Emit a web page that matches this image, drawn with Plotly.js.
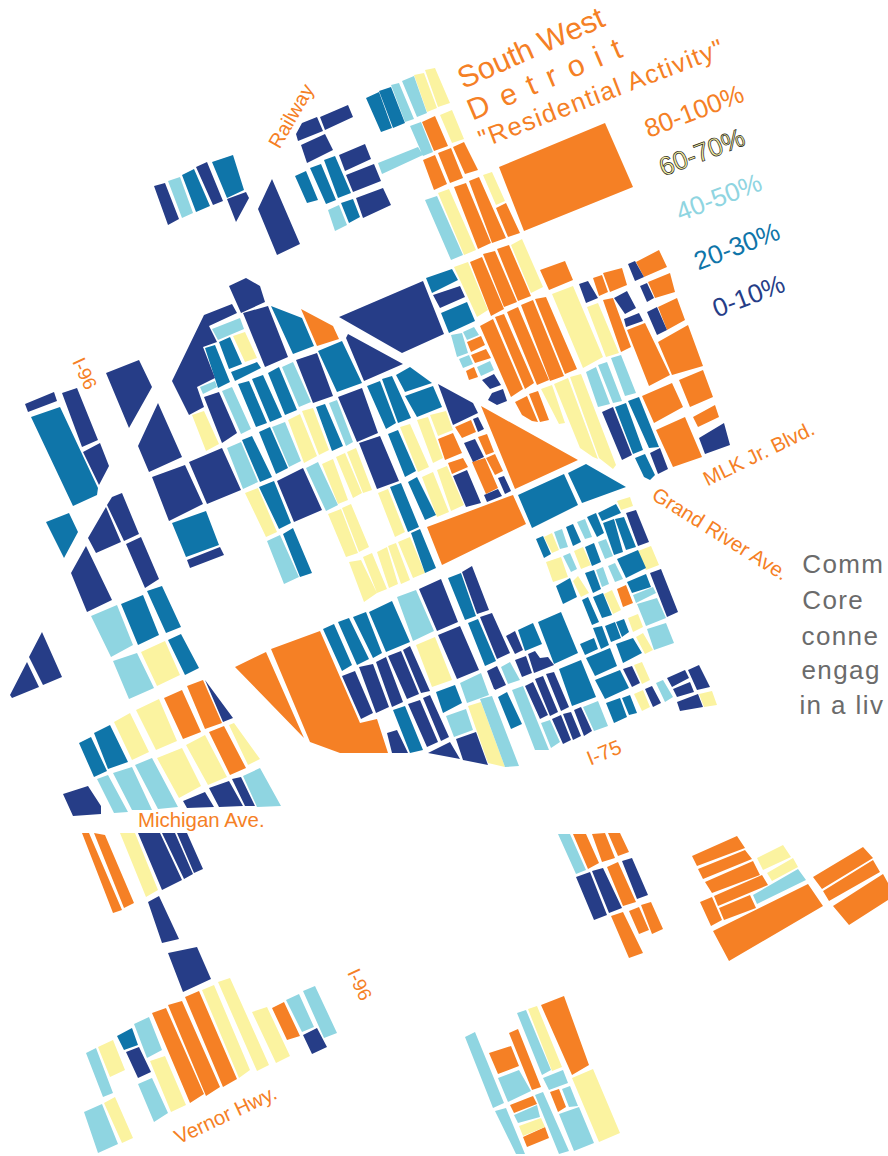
<!DOCTYPE html>
<html><head><meta charset="utf-8">
<script src="https://cdn.plot.ly/plotly-3.0.1.min.js"></script>
<style>html,body{margin:0;padding:0;background:#fff;overflow:hidden}#map{width:888px;height:1156px}</style>
</head><body><div id="map"></div>
<script>
const orangeBlocks=[
[422,122,435,116,448,146,434,151],[423,160,435,155,447,184,434,190],[438,153,451,148,463,178,450,183],[453,147,464,142,478,170,465,174],
[454,187,466,183,491,243,478,249],[469,181,479,177,506,238,492,243],[496,208,506,203,520,233,508,237],[499,167,605,123,633,187,524,231],
[470,262,482,257,504,309,491,316],[483,254,495,251,517,302,504,307],[497,249,509,245,531,296,518,301],[540,270,565,261,573,280,549,290],
[480,326,493,319,523,389,511,397],[495,317,504,314,534,383,525,389],[507,312,518,307,549,380,537,385],[521,305,533,300,564,376,550,381],[535,299,546,297,577,369,565,374],
[593,278,602,275,608,292,599,296],[603,273,622,268,627,285,610,292],[636,262,659,250,667,267,644,277],[648,282,670,273,675,292,655,298],[658,307,677,298,685,320,667,330],
[603,300,613,298,631,347,621,352],[627,330,645,323,670,375,649,386],[658,342,688,325,703,366,672,375],[642,396,672,383,683,407,654,423],[679,380,703,370,713,397,690,407],[693,417,715,405,719,417,698,427],[656,430,685,417,702,457,673,467],
[515,402,527,396,538,422,532,421,522,415],[529,394,538,391,549,420,540,422],
[467,342,481,336,485,345,471,352],[471,355,486,349,491,358,475,363],[466,371,474,367,478,377,469,380],
[481,406,578,460,515,489],[455,427,471,420,476,432,462,438],[438,439,453,433,462,453,445,460],[448,463,463,458,468,467,452,474],[478,437,487,434,494,452,486,455],[486,458,495,454,503,471,495,475],[472,462,485,458,498,488,486,494],
[427,527,513,495,526,524,442,565],[301,309,333,326,339,339,317,346],
[235,667,266,652,304,738],[271,649,320,631,360,723,377,719,388,753,340,753,310,742],
[187,686,203,680,222,723,205,729],[164,698,182,690,201,732,183,739],[209,732,224,726,246,768,230,775],
[82,833,89,833,122,910,113,913],[94,833,105,835,134,903,124,908],
[152,1013,166,1008,204,1094,190,1103],[168,1005,182,1001,220,1087,206,1096],[185,997,199,991,237,1079,223,1087],[272,1008,284,1002,300,1036,287,1040],
[489,1053,511,1046,519,1066,498,1074],[509,1033,518,1029,541,1087,532,1090],[541,1005,564,996,589,1065,572,1075],[550,1092,559,1089,566,1107,558,1112],[510,1105,533,1096,537,1104,514,1113],[523,1137,545,1127,549,1138,527,1147],
[573,834,586,834,599,863,588,869],[592,834,605,833,615,858,602,862],[608,833,620,833,629,852,618,856],[607,867,618,862,636,902,623,906],[611,916,623,912,643,953,629,958],[629,911,639,907,649,930,639,934],[641,905,651,902,663,929,652,934],
[692,856,737,836,745,848,697,866],[698,869,745,850,752,859,703,879],[705,882,753,861,760,875,712,893],[714,896,762,875,768,885,718,906],[719,908,750,895,756,908,724,920],[700,902,712,897,722,920,711,926],[713,931,808,884,823,906,729,961],
[813,877,863,847,873,858,822,889],[823,891,873,860,880,872,829,901],[833,906,883,874,888,883,888,900,849,925],
[617,589,626,585,633,603,623,607]
];
const yellowBlocks=[
[414,75,424,73,437,108,427,112],[425,70,435,68,450,103,438,107],[440,115,452,110,464,139,452,143],[438,193,449,189,476,250,464,255],[483,175,492,172,505,201,496,205],
[511,245,522,239,543,287,531,293],[454,267,468,262,488,310,477,317],[552,294,573,286,603,357,583,368],[587,307,598,303,619,353,606,357],
[541,389,552,385,565,423,559,424],[554,384,568,378,598,459,593,457,580,448],[570,377,581,374,616,465,613,469,599,458],
[233,336,245,332,257,358,245,362],[192,415,204,411,219,444,206,451],[288,420,300,414,317,456,304,463],[302,411,313,408,329,450,319,455],
[245,493,258,488,277,532,266,537],[322,464,333,459,348,500,338,504],[336,457,345,453,362,493,353,498],[347,452,356,448,372,490,363,493],
[400,427,410,424,429,467,418,472],[417,420,428,417,443,458,433,463],[430,415,446,411,453,430,438,436],[422,477,433,472,449,512,437,517],[437,470,447,466,464,505,451,511],
[378,493,388,489,405,532,395,537],[328,514,341,509,358,553,346,557],[342,508,351,504,369,547,359,552],
[349,562,361,560,377,593,364,602],[363,557,372,553,387,589,377,593],[377,552,387,547,398,584,389,588],[388,546,396,543,410,580,401,584],[398,542,410,537,425,573,413,578],
[617,501,630,497,633,506,621,510],[544,537,552,533,559,550,552,553],[546,562,561,557,568,577,553,582],[574,551,583,547,591,565,581,569],[638,551,651,546,659,565,646,570],[573,581,578,576,589,593,581,597],[604,594,612,590,621,610,613,614],[628,618,638,614,643,627,633,632],[636,637,643,633,653,650,645,654],[634,665,642,662,650,680,642,684],[634,694,643,690,650,707,642,711],[699,694,712,691,717,705,704,707],
[416,645,435,637,452,680,432,687],[468,706,481,702,505,767,488,763],
[136,710,159,699,177,741,156,750],[114,722,130,713,149,752,132,760],[157,758,182,748,201,786,179,798],[186,745,205,735,227,777,208,785],[229,725,234,723,260,759,248,765],[141,652,165,641,180,675,157,686],
[120,833,135,833,158,890,146,897],
[202,990,214,985,250,1070,239,1078],[218,982,230,978,269,1065,257,1071],[252,1012,267,1007,290,1056,276,1063],[150,1061,165,1056,186,1105,171,1112],[98,1047,113,1040,125,1070,110,1077],[104,1103,115,1097,133,1138,122,1143],
[528,1009,537,1006,562,1067,552,1071],[572,1078,593,1069,620,1133,599,1142],[519,1126,541,1118,545,1127,523,1136],
[757,858,783,845,791,857,763,870],[767,873,793,858,798,867,772,881]
];
const lightBlocks=[
[168,181,180,177,193,213,182,218],[391,85,399,83,414,119,405,122],[402,81,414,76,427,113,417,117],[410,126,421,122,433,152,423,156],[378,163,418,147,423,155,382,174],[328,210,339,205,347,225,335,231],[425,200,437,196,463,255,451,260],
[586,372,596,367,610,404,598,407],[598,365,607,362,622,401,613,403],[611,358,621,355,636,393,625,396],
[451,335,462,333,468,353,457,357],[463,332,474,327,479,335,467,340],[459,359,469,355,473,364,463,368],[477,367,490,361,494,370,481,376],
[212,329,240,318,244,329,218,340],[200,387,215,381,217,387,203,394],[282,367,293,362,311,402,299,407],[222,391,232,387,251,429,241,434],[329,403,337,400,353,442,346,446],[272,427,285,422,301,461,289,467],[227,448,241,442,258,482,243,489],[306,468,318,462,338,505,326,511],[267,541,280,535,299,577,284,584],
[577,522,585,519,592,537,585,539],[554,532,562,529,568,547,560,549],[598,542,606,539,613,556,605,559],[563,556,570,553,577,569,571,572],[596,570,603,567,609,584,602,587],[608,566,615,563,623,579,615,582],[633,595,653,587,656,593,636,603],[637,604,657,598,666,618,646,626],[647,629,666,623,674,643,654,650],[656,683,663,680,673,697,665,702],
[501,667,510,662,520,680,508,684],[512,690,523,686,549,750,535,750],[541,723,550,720,560,742,551,748],[583,707,598,701,608,726,594,731],
[397,597,416,590,434,631,413,641],[460,683,481,673,489,695,467,703],[446,716,466,709,473,730,454,737],[480,699,492,696,519,766,505,767],
[91,616,117,605,133,645,111,657],[113,661,137,653,154,688,129,699],
[113,773,132,767,152,810,132,810],[97,779,108,775,128,812,114,813],[135,765,152,758,178,807,158,809],[243,776,260,768,281,806,257,807],
[286,1000,299,994,314,1027,302,1032],[303,991,315,986,337,1033,324,1038],[134,1024,149,1017,162,1050,147,1058],[138,1084,152,1078,168,1113,154,1122],[86,1053,96,1048,113,1093,103,1097],[84,1112,102,1104,118,1144,98,1153],
[465,1037,475,1032,504,1103,493,1108],[498,1078,519,1070,531,1091,508,1102],[517,1013,526,1010,551,1070,542,1075],[543,1078,563,1070,568,1083,549,1090],[562,1089,570,1086,578,1106,569,1107],[559,1114,579,1107,594,1143,574,1151],[535,1095,543,1092,569,1151,559,1154],[514,1115,537,1105,540,1117,518,1123],[495,1111,506,1108,525,1154,516,1154],
[558,834,570,834,586,870,576,874],[753,895,798,869,806,880,757,904]
];
const tealBlocks=[
[182,175,194,169,210,206,196,212],[212,162,233,155,244,190,227,198],[366,98,379,92,392,128,381,132],[379,91,391,87,405,123,393,128],[295,176,306,171,318,200,307,203],[310,168,321,164,336,200,326,204],[324,160,335,156,351,193,338,198],[341,203,353,199,360,217,349,223],
[426,278,452,269,458,280,432,293],[441,313,467,302,475,321,449,333],
[615,407,626,403,643,450,633,454],[628,401,639,397,659,447,649,448],[635,458,645,454,655,475,650,480,644,477],
[518,495,564,474,578,505,532,528],[568,473,586,464,626,487,582,503],
[598,513,616,504,621,513,602,521],[587,517,596,513,604,533,597,537],[566,527,573,524,581,542,573,546],[536,539,543,536,551,554,544,558],[603,523,614,519,623,552,614,555],[615,519,624,517,636,547,626,550],[585,547,594,543,601,562,592,566],[585,573,594,570,601,589,593,593],[617,559,638,550,646,568,626,578],[627,582,646,574,651,587,632,593],[556,586,570,578,577,597,563,604],[582,600,588,597,599,622,592,625],[593,597,603,593,612,615,602,618],[616,622,624,619,629,632,622,637],[605,626,615,622,621,638,611,642],[593,628,602,626,609,645,601,649],[580,644,594,638,598,649,585,655],[616,644,633,638,642,653,623,663],[586,658,610,648,617,666,595,676],[595,680,620,670,629,688,605,699],[606,703,620,698,627,717,614,723],[622,698,630,695,637,713,629,715],[559,669,581,660,596,697,572,706],[538,622,561,612,578,653,554,664],[518,630,533,623,542,644,525,651],[498,697,507,692,522,724,511,729],
[323,629,334,624,352,665,342,671],[338,622,349,618,369,659,357,665],[353,617,366,612,382,653,373,658],[369,612,392,601,410,642,386,652],[448,578,461,573,476,616,465,620],[468,623,478,619,496,661,485,666],[436,692,455,685,462,703,443,713],[393,710,405,706,423,750,410,753],
[219,342,230,337,242,364,229,369],[205,348,215,345,230,382,218,388],[231,372,257,362,261,368,235,381],[271,306,302,318,314,346,293,354],[318,351,342,341,362,383,337,392],[367,386,380,381,396,423,386,429],[382,379,392,376,411,418,398,423],[396,375,410,367,432,383,405,392],[405,396,433,386,442,407,417,417],
[268,373,279,367,297,410,285,415],[252,379,263,375,282,417,270,422],[238,384,249,381,267,423,256,427],[316,407,325,404,343,446,332,451],[259,432,270,427,288,468,276,474],[242,440,252,436,272,477,260,482],[259,487,274,481,291,523,279,529],[388,434,398,430,416,471,405,477],[408,482,417,477,436,515,425,520],[390,487,401,483,419,527,408,532],[411,533,420,529,436,568,425,573],[283,534,293,528,312,573,300,577],
[31,417,60,407,98,488,97,495,73,506],[172,523,206,511,219,545,186,557],[46,522,69,513,78,532,64,558],[121,604,143,595,159,635,138,645],[147,591,162,586,181,627,166,633],[168,640,181,634,199,668,185,675],
[94,733,110,725,128,762,108,769],[79,743,91,737,107,771,94,777],[117,1036,132,1028,138,1045,124,1050]
];
const navyBlocks=[
[154,186,165,183,179,219,168,225],[196,167,207,162,223,201,213,205],[227,199,246,192,249,198,236,222],[272,179,300,244,277,255,258,209],
[229,286,246,278,260,286,265,302,241,313],[296,134,302,123,317,117,323,131,298,141],[320,117,348,105,353,117,325,130],[301,145,325,134,333,150,307,163],[339,155,365,144,371,159,345,171],[346,175,374,164,381,181,353,192],[356,198,383,188,391,205,363,218],
[433,295,460,286,465,297,440,308],[339,317,423,281,444,334,402,353],
[579,284,588,281,598,298,586,303],[628,264,635,261,644,277,635,281],[640,286,647,283,654,298,647,302],[647,312,657,307,667,330,657,335],[614,298,627,291,636,308,625,314],[624,319,639,313,643,321,626,327],[699,438,724,423,730,445,705,454],[602,412,613,407,632,455,622,460],[650,453,660,448,668,469,658,474],
[482,380,494,374,501,385,490,389],[492,393,503,389,507,401,497,405,488,400],[438,384,473,403,478,413,458,423,453,425],[473,419,478,417,484,429,478,432],[464,443,475,439,484,457,473,462],[498,478,504,476,511,491,505,494],[484,495,498,489,502,496,487,502],[453,476,467,470,481,503,466,507],
[204,315,232,304,237,313,209,326,217,342,203,347,215,378,197,387,204,407,189,415,172,381],[243,313,268,306,288,357,265,367],[296,360,317,353,333,396,313,403],[346,338,348,334,403,364,364,381],[338,397,362,388,378,433,357,442],[204,397,219,392,237,433,222,443],[189,462,222,448,241,490,207,504],[277,481,303,468,322,510,294,522],[359,443,380,436,399,481,377,489],
[626,513,636,510,649,542,638,546],[650,573,661,569,678,612,667,617],[623,669,632,666,640,683,632,687],[645,689,652,686,661,703,653,707],[667,678,685,670,689,678,672,687],[688,670,699,665,710,687,697,690],[673,689,690,682,694,692,677,697],[677,702,698,694,703,707,680,711],
[506,636,515,631,523,650,515,654],[528,654,535,651,540,658,548,657,554,665,534,673],[515,660,526,656,532,673,522,677],[490,672,497,666,506,685,495,690],[525,686,533,682,548,715,540,719],[535,679,543,676,558,712,550,716],[546,674,554,672,569,707,561,711],[552,719,561,715,571,740,563,744],[563,714,571,712,581,736,573,740],[574,710,581,707,592,731,584,736],
[419,589,441,579,458,622,437,631],[462,572,472,566,489,610,477,614],[438,635,460,626,479,670,457,679],[480,617,492,613,510,653,497,659],[487,671,497,666,506,685,494,689],[342,676,355,671,373,713,361,719],[359,667,373,664,389,707,376,713],[376,662,386,657,403,702,392,707],[388,656,401,651,419,694,407,699],[403,650,410,646,430,691,421,693],[387,733,397,730,408,753,392,753],[408,704,420,700,438,742,427,747],[423,698,430,695,449,737,441,741],[428,753,450,742,460,759],[456,739,476,732,488,765,463,760],
[25,404,54,392,57,401,28,412],[62,393,77,388,98,440,82,447],[83,452,100,443,109,466,99,485],[106,373,139,360,152,387,129,428],[138,446,158,403,182,457,149,472],[152,477,185,465,203,504,169,521],[187,560,220,547,224,555,190,568],
[107,505,112,497,122,493,139,534,124,541],[88,538,106,507,121,542,96,553],[126,544,141,537,159,579,145,588],[71,573,86,546,112,600,87,612],[42,632,62,677,43,685,29,657],[27,662,39,687,12,698,10,695],
[205,680,233,718,223,722],[63,794,88,786,101,806,101,814,73,816],[183,801,205,792,214,807,187,808],[209,788,229,781,243,806,219,807],[232,779,241,777,255,806,245,806],
[138,833,160,833,182,880,162,890],[162,833,175,833,193,874,184,879],[177,833,187,833,203,869,194,873],[148,902,159,896,179,939,162,943],[168,953,197,947,211,979,183,992],
[303,1035,317,1028,327,1047,312,1054],[126,1052,139,1047,151,1072,138,1078],
[576,877,590,872,607,915,594,920],[592,871,603,868,622,908,609,913],[622,861,632,858,648,895,637,899]
];
const blockGroups=[[orangeBlocks,'#F58025'],[yellowBlocks,'#FBF3A0'],[lightBlocks,'#8FD5E1'],[tealBlocks,'#0F75A9'],[navyBlocks,'#263D87']];
const traces=blockGroups.map(([polys,color])=>{
  const x=[],y=[];
  polys.forEach(p=>{
    for(let i=0;i<p.length;i+=2){x.push(p[i]);y.push(p[i+1]);}
    x.push(p[0]);y.push(p[1]);x.push(null);y.push(null);
  });
  return {type:'scatter',mode:'lines',x,y,fill:'toself',fillcolor:color,line:{width:0,color},hoverinfo:'skip',showlegend:false};
});
const ORANGE='#F58025';
const labels=[
['South West',531,47,-24,30.5,ORANGE],
['D e t r o i t',545,78,-23,30,ORANGE],
['"Residential Activity"',601,93,-21,25.5,ORANGE],
['80-100%',694,111,-21,26,ORANGE],
['60-70%',702,152,-21,26,'#FBF3A0'],
['40-50%',719,197,-21,26,'#8FD5E1'],
['20-30%',737,246,-21,26,'#0F75A9'],
['0-10%',748,296,-21,26,'#263D87'],
['Railway',291,116,-60,20,ORANGE],
['I-96',85,373,65,19,ORANGE],
['I-96',360,984,65,19,ORANGE],
['MLK Jr. Blvd.',758,453,-26,20.5,ORANGE],
['Grand River Ave.',721,533,32,20.5,ORANGE],
['I-75',603,752,-22,20.5,ORANGE],
['Michigan Ave.',201,820,0,20.4,ORANGE],
['Vernor Hwy.',225,1114,-25,20.5,ORANGE]
];
const sideText=['Comm','Core','conne','engag','in a liv'];
const sideY=[564,600,636,670,705];
const sideTracking=1.4;
const FONT='"Liberation Sans",Arial,sans-serif';
const annotations=labels.map(([text,x,y,a,size,color])=>({text,x,y,xref:'x',yref:'y',textangle:a,xanchor:'center',yanchor:'middle',showarrow:false,font:{family:FONT,size,color}}))
 .concat(sideText.map((text,i)=>({text,x:803,y:sideY[i],xref:'x',yref:'y',xanchor:'left',yanchor:'middle',showarrow:false,font:{family:FONT,size:26,color:'#6b6b6b'}})));
const layout={width:888,height:1156,margin:{l:0,r:0,t:0,b:0},paper_bgcolor:'#fff',plot_bgcolor:'#fff',showlegend:false,
 xaxis:{range:[0,888],visible:false,fixedrange:true},yaxis:{range:[1156,0],visible:false,fixedrange:true},annotations};
Plotly.newPlot('map',traces,layout,{displayModeBar:false,staticPlot:true}).then(()=>{
  document.querySelectorAll('.annotation-text').forEach(t=>{
    const s=t.textContent;
    if(s==='60-70%'){t.style.stroke='#222';t.style.strokeWidth='0.7px';}
    if(s==='D e t r o i t'){t.style.letterSpacing='2.2px';}
    if(s==='"Residential Activity"'){t.style.letterSpacing='1.4px';}
    if(sideText.includes(s)){t.style.letterSpacing=sideTracking+'px';}
  });
});
</script></body></html>
